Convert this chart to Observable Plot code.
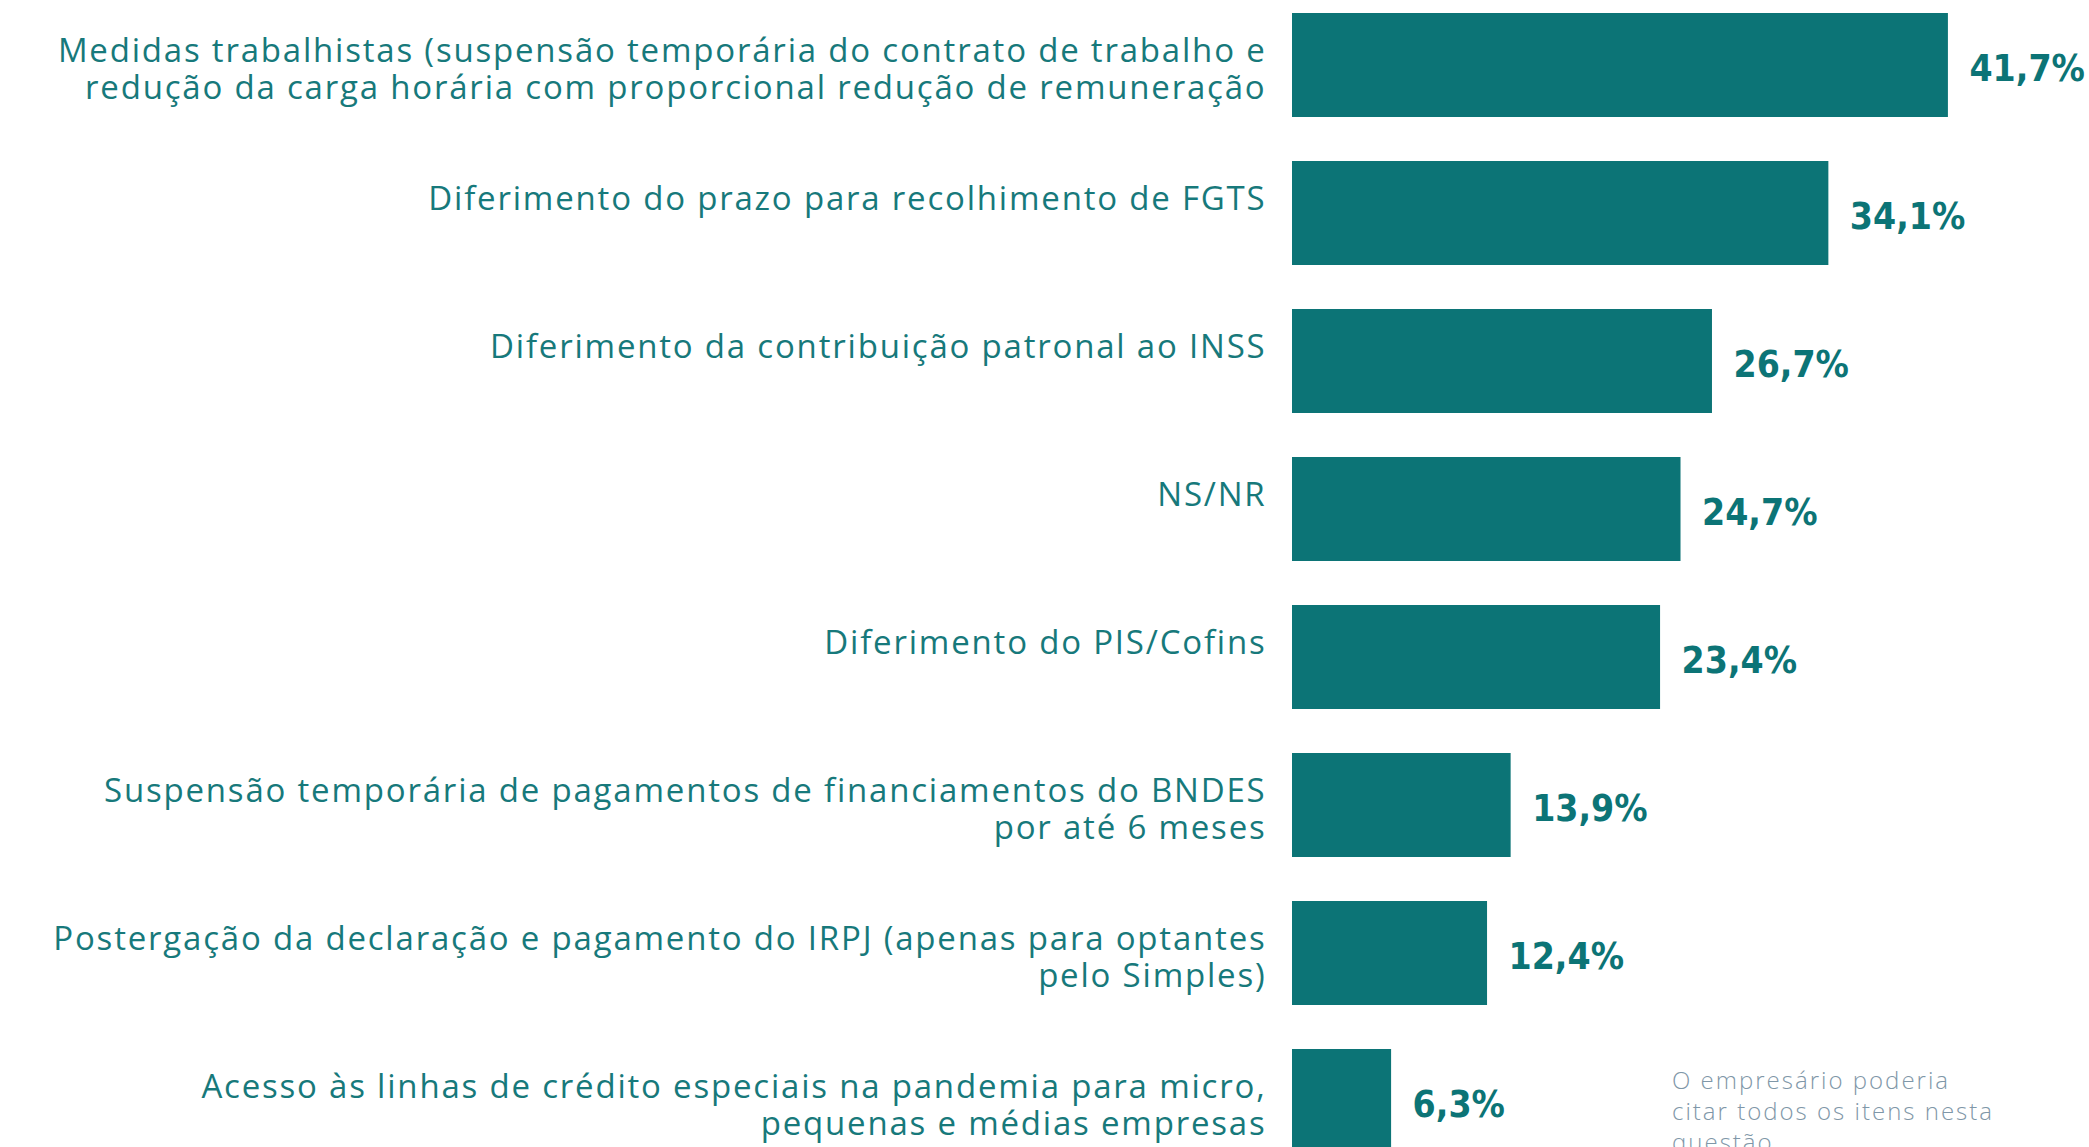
<!DOCTYPE html>
<html>
<head>
<meta charset="utf-8">
<script src="https://cdn.jsdelivr.net/npm/d3@7"></script>
<script src="https://cdn.jsdelivr.net/npm/@observablehq/plot@0.6"></script>
<style>
  html, body { margin: 0; padding: 0; background: #ffffff; overflow: hidden; width: 2089px; height: 1147px; }
  #wrap { position: relative; width: 2089px; height: 1147px; }
  #chart svg { display: block; }
  #chart svg g[text-anchor="end"] text { letter-spacing: 1.8px; }
  #caption {
    position: absolute; left: 1672px; top: 1064px;
    font-family: "Open Sans", sans-serif; font-size: 24px; line-height: 31px;
    color: #7f97a8; font-weight: 300; letter-spacing: 2px;
  }
</style>
</head>
<body>
<div id="wrap">
  <div id="chart"></div>
  <div id="caption">O empresário poderia<br>citar todos os itens nesta<br>questão</div>
</div>
<script>
const categories = [
  "Medidas trabalhistas (suspensão temporária do contrato de trabalho e\nredução da carga horária com proporcional redução de remuneração",
  "Diferimento do prazo para recolhimento de FGTS",
  "Diferimento da contribuição patronal ao INSS",
  "NS/NR",
  "Diferimento do PIS/Cofins",
  "Suspensão temporária de pagamentos de financiamentos do BNDES\npor até 6 meses",
  "Postergação da declaração e pagamento do IRPJ (apenas para optantes\npelo Simples)",
  "Acesso às linhas de crédito especiais na pandemia para micro,\npequenas e médias empresas"
];
const values = [41.7, 34.1, 26.7, 24.7, 23.4, 13.9, 12.4, 6.3];

const data = categories.map((c, i) => ({
  category: c,
  value: values[i],
  label: values[i].toFixed(1).replace(".", ",") + "%"
}));

const teal = "#0c7476";

const chart = Plot.plot({
  width: 2089,
  height: 1160,
  marginLeft: 1292,
  marginRight: 0,
  marginTop: 12,
  marginBottom: 6,
  style: { background: "transparent", overflow: "visible" },
  x: { domain: [0, 50.67], axis: null },
  y: { domain: categories, paddingInner: 0.299, paddingOuter: 0, axis: null },
  marks: [
    Plot.barX(data, { x: "value", y: "category", fill: teal }),
    Plot.text(data, {
      x: "value", y: "category", text: "label",
      textAnchor: "start", dx: 21, dy: 4,
      fill: teal, fontSize: 37, fontWeight: "bold",
      fontFamily: "'DejaVu Sans Condensed', 'DejaVu Sans', sans-serif"
    }),
    Plot.text(data, {
      x: 0, y: "category", text: "category",
      textAnchor: "end", lineAnchor: "top", dx: -26, dy: -30,
      lineHeight: 1.12,
      fill: "#17797b", fontSize: 33, fontWeight: 400,
      fontFamily: "'Open Sans', sans-serif"
    })
  ]
});
document.getElementById("chart").appendChild(chart);
</script>
</body>
</html>
